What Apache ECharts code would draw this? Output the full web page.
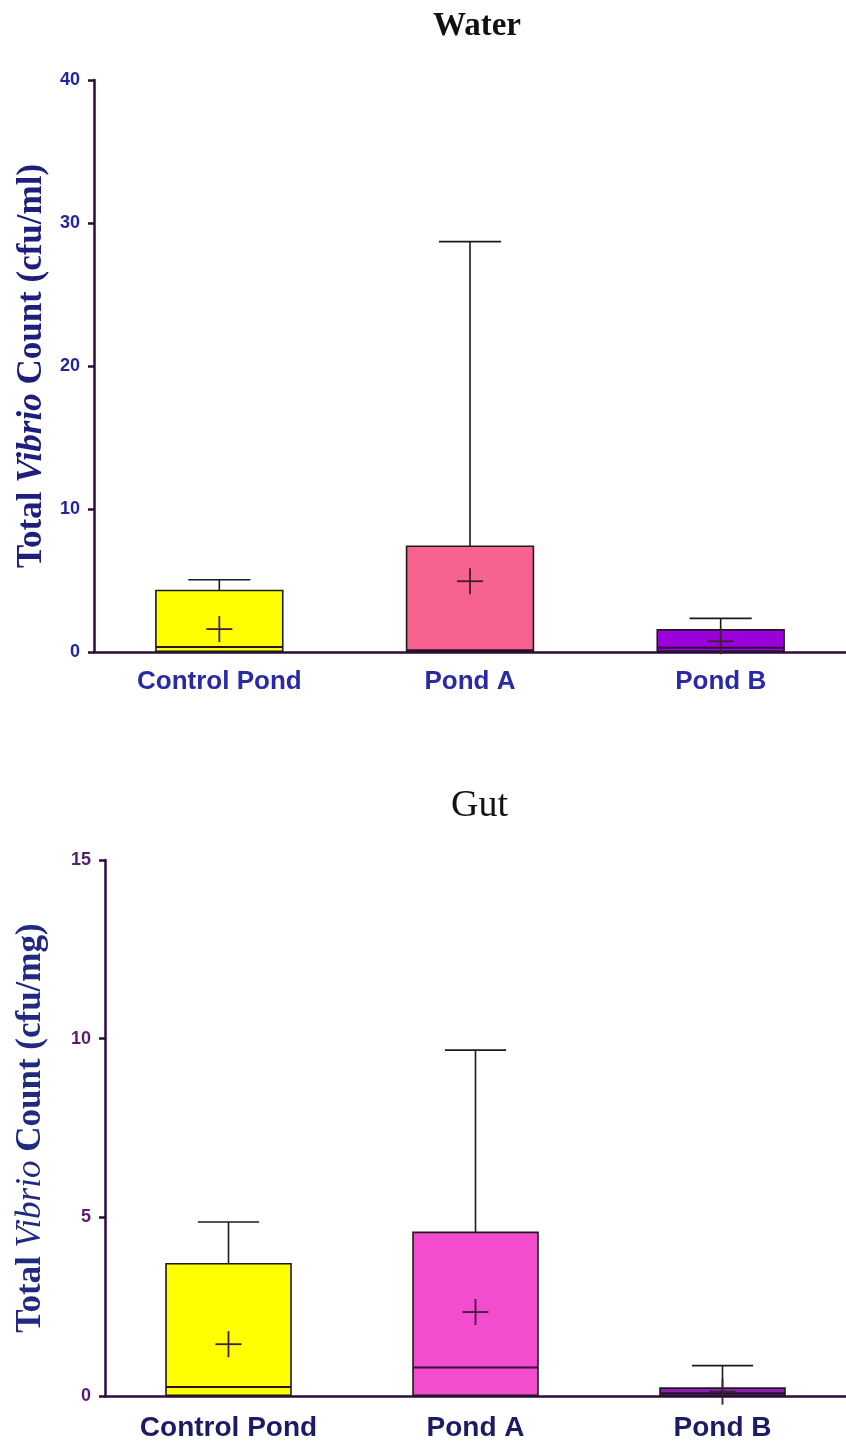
<!DOCTYPE html>
<html>
<head>
<meta charset="utf-8">
<script src="https://cdn.jsdelivr.net/npm/echarts@6/dist/echarts.min.js"></script>
<style>html,body{margin:0;padding:0;background:#fff;}#c{width:846px;height:1449px;}</style>
</head>
<body>
<div id="c"></div>
<script>
const categories = ['Control Pond', 'Pond A', 'Pond B'];
const waterYTicks = [0, 10, 20, 30, 40];
const gutYTicks = [0, 5, 10, 15];

// Water (cfu/ml)
const waterQ1 = [0.05, 0.05, 0.05];
const waterMedian = [0.35, 0.12, 0.3];
const waterQ3 = [4.3, 7.4, 1.55];
const waterMax = [5.05, 28.7, 2.35];
const waterMean = [1.6, 4.95, 0.75];

// Gut (cfu/mg)
const gutQ1 = [0.02, 0.02, 0.02];
const gutMedian = [0.25, 0.8, 0.08];
const gutQ3 = [3.7, 4.58, 0.22];
const gutMax = [4.87, 9.68, 0.85];
const gutMean = [1.45, 2.35, 0.12];

const waterColors = ['#ffff00', '#f7628e', '#9b00dc'];
const gutColors = ['#ffff00', '#f44ccf', '#8e1eb2'];

function buildData(q1, med, q3, mx, mean) {
  return categories.map((c, i) => [i, q1[i], med[i], q3[i], mx[i], mean[i]]);
}

function makeRender(colors) {
  return function (params, api) {
    const i = api.value(0);
    const pQ1 = api.coord([i, api.value(1)]);
    const pMed = api.coord([i, api.value(2)]);
    const pQ3 = api.coord([i, api.value(3)]);
    const pMax = api.coord([i, api.value(4)]);
    const pMean = api.coord([i, api.value(5)]);
    const band = api.size([1, 0])[0];
    const bw = band * 0.506;
    const cw = bw * 0.49;
    const mk = 13;
    const x = pQ1[0];
    const ls = { stroke: '#1b1b1b', lineWidth: 1.6 };
    return {
      type: 'group',
      children: [
        { type: 'line', shape: { x1: x, y1: pQ3[1], x2: x, y2: pMax[1] }, style: ls },
        { type: 'line', shape: { x1: x - cw / 2, y1: pMax[1], x2: x + cw / 2, y2: pMax[1] }, style: ls },
        { type: 'rect', shape: { x: x - bw / 2, y: pQ3[1], width: bw, height: pQ1[1] - pQ3[1] },
          style: { fill: colors[params.dataIndex], stroke: '#1b1b1b', lineWidth: 1.6 } },
        { type: 'line', shape: { x1: x - bw / 2, y1: pMed[1], x2: x + bw / 2, y2: pMed[1] }, style: { stroke: '#2a1030', lineWidth: 2 } },
        { type: 'line', shape: { x1: x - mk, y1: pMean[1], x2: x + mk, y2: pMean[1] }, style: { stroke: '#3a2030', lineWidth: 1.8 } },
        { type: 'line', shape: { x1: x, y1: pMean[1] - mk, x2: x, y2: pMean[1] + mk }, style: { stroke: '#3a2030', lineWidth: 1.8 } }
      ]
    };
  };
}

const chart = echarts.init(document.getElementById('c'));
chart.setOption({
  animation: false,
  backgroundColor: '#ffffff',
  title: [
    { text: 'Water', left: 428, top: 5,
      textStyle: { fontFamily: 'Liberation Serif', fontWeight: 'bold', fontSize: 33, color: '#111' } },
    { text: 'Gut', left: 446, top: 782,
      textStyle: { fontFamily: 'Liberation Serif', fontWeight: 'normal', fontSize: 38, color: '#111' } }
  ],
  grid: [
    { left: 94, top: 80, width: 756, height: 572 },
    { left: 105, top: 860, width: 745, height: 536 }
  ],
  xAxis: [
    { type: 'category', gridIndex: 0, data: categories,
      axisLine: { lineStyle: { color: '#2e0a3e', width: 2.5 } },
      axisTick: { alignWithLabel: true, length: 9, lineStyle: { color: '#2e0a3e', width: 2.5 } },
      axisLabel: { margin: 17, fontFamily: 'Liberation Sans', fontWeight: 'bold', fontSize: 26, color: '#2a2aa6' } },
    { type: 'category', gridIndex: 1, data: categories,
      axisLine: { lineStyle: { color: '#2e0a3e', width: 2.5 } },
      axisTick: { alignWithLabel: true, length: 9, lineStyle: { color: '#2e0a3e', width: 2.5 } },
      axisLabel: { margin: 18, fontFamily: 'Liberation Sans', fontWeight: 'bold', fontSize: 28, color: '#1c1c66' } }
  ],
  yAxis: [
    { type: 'value', gridIndex: 0, min: 0, max: 40, interval: 10,
      splitLine: { show: false },
      axisLine: { show: true, lineStyle: { color: '#2e0a3e', width: 2.5 } },
      axisTick: { show: true, length: 6, lineStyle: { color: '#2e0a3e', width: 2.5 } },
      axisLabel: { margin: 14, fontFamily: 'Liberation Sans', fontWeight: 'bold', fontSize: 18, color: '#2424a0',
        formatter: v => waterYTicks.includes(v) ? String(v) : '' },
      name: 'Total {i|Vibrio} Count (cfu/ml)', nameLocation: 'middle', nameGap: 43,
      nameTextStyle: { fontFamily: 'Liberation Serif', fontWeight: 'bold', fontSize: 35, color: '#1e1e7c',
        rich: { i: { fontFamily: 'Liberation Serif', fontStyle: 'italic', fontWeight: 'bold', fontSize: 35, color: '#1e1e7c' } } } },
    { type: 'value', gridIndex: 1, min: 0, max: 15, interval: 5,
      splitLine: { show: false },
      axisLine: { show: true, lineStyle: { color: '#2e0a3e', width: 2.5 } },
      axisTick: { show: true, length: 6, lineStyle: { color: '#2e0a3e', width: 2.5 } },
      axisLabel: { margin: 14, fontFamily: 'Liberation Sans', fontWeight: 'bold', fontSize: 18, color: '#5a1e6e',
        formatter: v => gutYTicks.includes(v) ? String(v) : '' },
      name: 'Total {i|Vibrio} Count (cfu/mg)', nameLocation: 'middle', nameGap: 57,
      nameTextStyle: { fontFamily: 'Liberation Serif', fontWeight: 'bold', fontSize: 35, color: '#1f2a80',
        rich: { i: { fontFamily: 'Liberation Serif', fontStyle: 'italic', fontWeight: 'normal', fontSize: 35, color: '#1f2a80' } } } }
  ],
  series: [
    { type: 'custom', xAxisIndex: 0, yAxisIndex: 0, clip: false,
      renderItem: makeRender(waterColors),
      encode: { x: 0, y: [1, 2, 3, 4, 5] },
      data: buildData(waterQ1, waterMedian, waterQ3, waterMax, waterMean) },
    { type: 'custom', xAxisIndex: 1, yAxisIndex: 1, clip: false,
      renderItem: makeRender(gutColors),
      encode: { x: 0, y: [1, 2, 3, 4, 5] },
      data: buildData(gutQ1, gutMedian, gutQ3, gutMax, gutMean) }
  ]
});
</script>
</body>
</html>
